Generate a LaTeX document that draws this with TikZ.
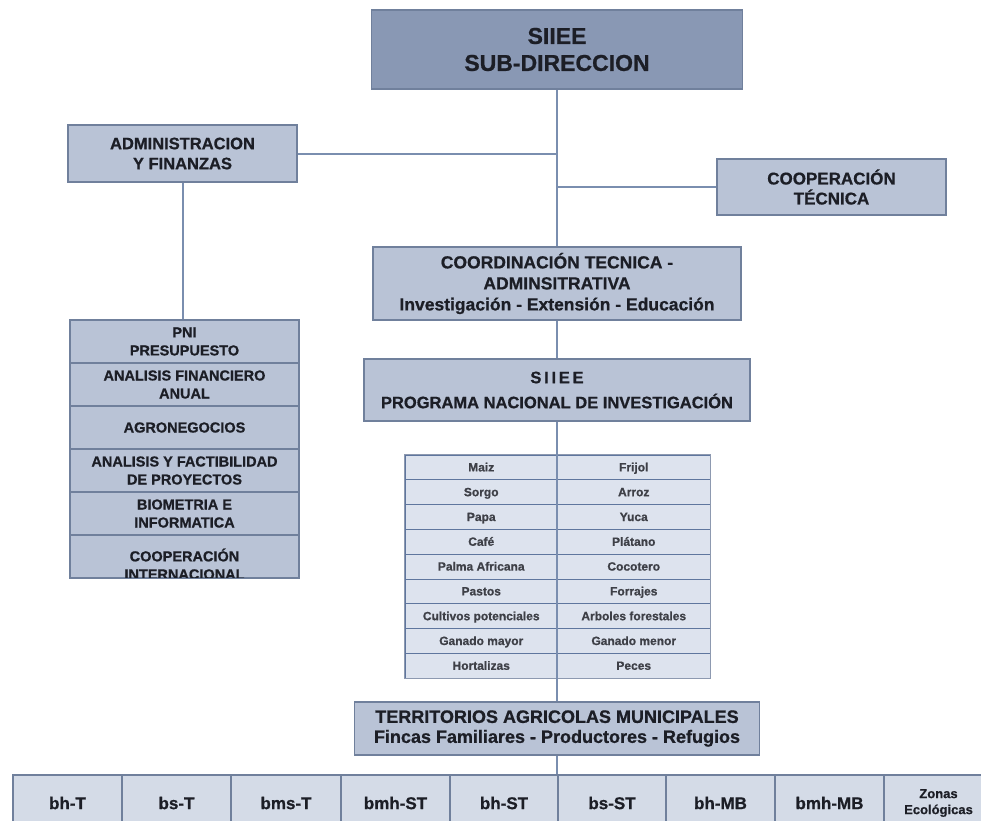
\documentclass[tikz,border=0pt]{standalone}
\usepackage{fontspec}
\setmainfont{Liberation Sans}[BoldFont={Liberation Sans Bold}, BoldFeatures={FakeBold=0.8}]
\definecolor{darkfill}{RGB}{137,152,180}
\definecolor{boxfill}{RGB}{185,195,214}
\definecolor{cellfill}{RGB}{221,227,238}
\definecolor{bordc}{RGB}{112,128,156}
\definecolor{linec}{RGB}{122,142,175}
\definecolor{rowline}{RGB}{95,118,158}
\definecolor{txtc}{RGB}{28,30,38}
\begin{document}
\begin{tikzpicture}[x=1pt,y=-1pt,
  box/.style={draw=bordc, fill=boxfill, line width=1.2pt, inner sep=0pt, align=center, text=txtc},
  topbox/.style={box, fill=darkfill},
  stackcell/.style={box, minimum width=229pt, minimum height=43pt},
  tcell/.style={draw=rowline, fill=cellfill, line width=1pt, inner sep=0pt, align=center, text=txtc!85!white,
                minimum width=152.5pt, minimum height=24.8pt, text height=8pt, text depth=0pt,
                font=\bfseries\fontsize{12}{14}\selectfont},
  zcell/.style={draw=bordc, fill=cellfill!92!bordc, line width=1.2pt, inner sep=0pt, align=center, text=txtc,
                minimum height=56pt, font=\bfseries\fontsize{17}{20}\selectfont},
  conn/.style={draw=linec, line width=2pt}]
\clip (0,0) rectangle (981,820);
\fill[white] (0,0) rectangle (981,820);

% main boxes
\node[topbox, minimum width=371pt, minimum height=79pt, font=\bfseries\fontsize{23}{27}\selectfont]
  (top) at (557,49.5) {SIIEE\\SUB-DIRECCION};
\node[box, minimum width=229pt, minimum height=57pt, font=\bfseries\fontsize{16.5}{20}\selectfont]
  (admin) at (182.5,153.5) {ADMINISTRACION\\Y FINANZAS};
\node[box, minimum width=229pt, minimum height=56pt, font=\bfseries\fontsize{17}{20}\selectfont]
  (coop) at (831.5,187) {COOPERACIÓN\\TÉCNICA};
\node[box, minimum width=368pt, minimum height=73pt, font=\bfseries\fontsize{17.5}{21}\selectfont]
  (coord) at (557,283.5) {COORDINACIÓN TECNICA -\\ADMINSITRATIVA\\Investigación - Extensión - Educación};
\node[box, minimum width=386pt, minimum height=62pt, font=\bfseries\fontsize{16.5}{20}\selectfont]
  (pni) at (557,390) {S\,I\,I\,E\,E\\[5pt]PROGRAMA NACIONAL DE INVESTIGACIÓN};
\node[box, minimum width=405pt, minimum height=53pt, font=\bfseries\fontsize{18}{20}\selectfont]
  (terr) at (557,728.5) {TERRITORIOS AGRICOLAS MUNICIPALES\\Fincas Familiares - Productores - Refugios};

% connectors
\draw[conn] (top.south) -- (coord.north);
\draw[conn] (admin.east) -- (admin.east -| top.south);
\draw[conn] (coop.west) -- (coop.west -| top.south);
\draw[conn] (coord.south) -- (pni.north);

% left stack
\node[stackcell, font=\bfseries\fontsize{14.5}{18}\selectfont] (s1) at (184.5,341.5) {PNI\\PRESUPUESTO};
\node[stackcell, font=\bfseries\fontsize{14.5}{18}\selectfont] (s2) at (184.5,384.5) {ANALISIS FINANCIERO\\ANUAL};
\node[stackcell, font=\bfseries\fontsize{14.5}{18}\selectfont] (s3) at (184.5,427.5) {AGRONEGOCIOS};
\node[stackcell, font=\bfseries\fontsize{14.5}{18}\selectfont] (s4) at (184.5,470.5) {ANALISIS Y FACTIBILIDAD\\DE PROYECTOS};
\node[stackcell, font=\bfseries\fontsize{14.5}{18}\selectfont] (s5) at (184.5,513.5) {BIOMETRIA E\\INFORMATICA};
\node[stackcell] (s6) at (184.5,556.5) {};
\begin{scope}
  \clip (s6.north west) rectangle (s6.south east);
  \node[inner sep=0pt, align=center, text=txtc, font=\bfseries\fontsize{14.5}{18}\selectfont]
    (s6text) at (184.5,564) {COOPERACIÓN\\INTERNACIONAL};
\end{scope}
\draw[draw=bordc, line width=1.2pt] (s6.north west) rectangle (s6.south east);
\draw[conn] (admin.south) -- (admin.south |- s1.north);

% crops table
\foreach \i/\l/\r in {1/Maiz/Frijol, 2/Sorgo/Arroz, 3/Papa/Yuca, 4/Café/Plátano,
  5/Palma Africana/Cocotero, 6/Pastos/Forrajes, 7/Cultivos potenciales/Arboles forestales,
  8/Ganado mayor/Ganado menor, 9/Hortalizas/Peces}{
  \node[tcell] (tl\i) at (481.25,{442.6+24.8*\i}) {\l};
  \node[tcell] (tr\i) at (633.75,{442.6+24.8*\i}) {\r};
}
\draw[draw=bordc!80!white, line width=1.2pt] (tl1.north west) rectangle (tr9.south east);
\draw[conn] (pni.south) -- (terr.north);

% bottom row
\foreach \i/\xa/\xb/\t in {1/13/122/bh-T, 2/122/231/bs-T, 3/231/341/bms-T, 4/341/450/bmh-ST,
  5/450/558/bh-ST, 6/558/666/bs-ST, 7/666/775/bh-MB, 8/775/884/bmh-MB}{
  \node[zcell, minimum width={\xb-\xa}] (b\i) at ({(\xa+\xb)/2},803) {\t};
}
\node[zcell, minimum width=109pt, font=\bfseries\fontsize{13}{16}\selectfont] (b9) at (938.5,803) {Zonas\\Ecológicas};
\coordinate (bj) at (terr.south |- b6.north);
\draw[conn] (terr.south) -- (bj);
\end{tikzpicture}
\end{document}
